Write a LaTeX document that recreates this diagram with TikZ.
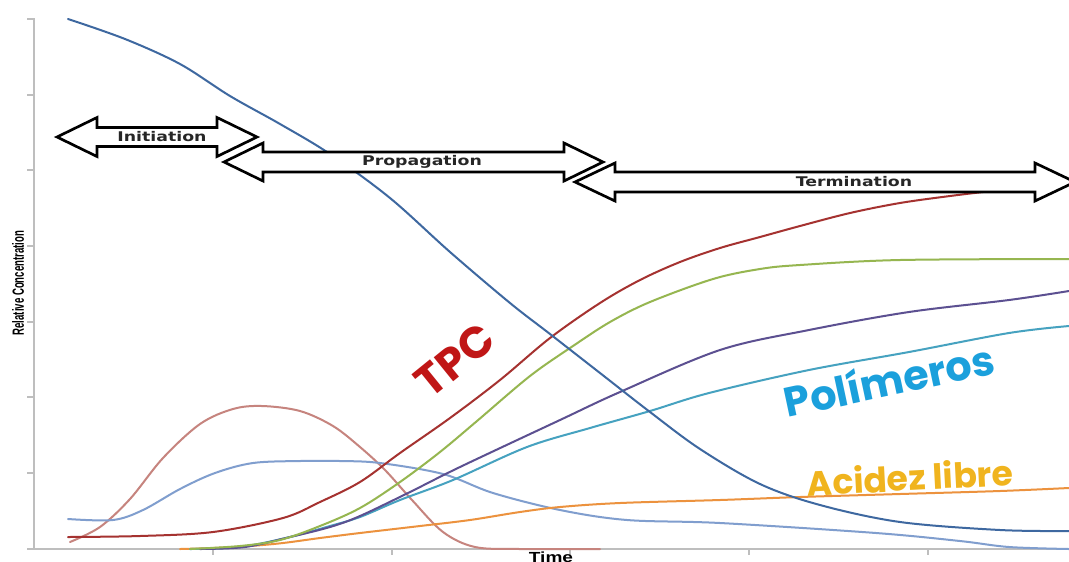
\documentclass[tikz,border=0pt]{standalone}
\usepackage{fontspec}
\setmainfont{DejaVu Sans}
\newfontfamily\bigfont{Poppins}
\newfontfamily\axfont{Liberation Sans}
\definecolor{cdb}{RGB}{62,104,160}
\definecolor{cred}{RGB}{165,50,48}
\definecolor{cgreen}{RGB}{150,182,80}
\definecolor{cpurple}{RGB}{92,80,145}
\definecolor{cteal}{RGB}{70,162,192}
\definecolor{corange}{RGB}{236,146,62}
\definecolor{crose}{RGB}{198,132,126}
\definecolor{clblue}{RGB}{128,158,206}
\definecolor{caxis}{RGB}{190,190,190}
\definecolor{ctpc}{RGB}{192,22,22}
\definecolor{cpol}{RGB}{27,160,220}
\definecolor{cacid}{RGB}{240,180,30}
\newcommand\phasearrow[6]{%
  \draw[arrowbox] (#1,#3) -- (#1+#4,#3-#6) -- (#1+#4,#3-#5) -- (#2-#4,#3-#5)
    -- (#2-#4,#3-#6) -- (#2,#3) -- (#2-#4,#3+#6) -- (#2-#4,#3+#5)
    -- (#1+#4,#3+#5) -- (#1+#4,#3+#6) -- cycle;}
\tikzset{
  curve/.style={line width=1.5pt, line join=round, line cap=round},
  arrowbox/.style={draw=black, fill=white, line width=2pt, line join=miter},
  phase/.style={font=\fontsize{10}{12}\selectfont\bfseries, text=black!85, xscale=1.3, inner sep=0pt},
  biglab/.style={font=\bigfont\bfseries, inner sep=0pt},
  axline/.style={draw=caxis, line width=1.5pt}
}
\begin{document}
\begin{tikzpicture}[x=0.75pt,y=-0.75pt]
\useasboundingbox (0,0) rectangle (1069,561);
\clip (0,0) rectangle (1069,561);
\fill[white] (0,0) rectangle (1069,561);
% axes
\coordinate (yt) at (34,18);
\coordinate (org) at (34,549);
\coordinate (xr) at (1069,549);
\draw[axline] (yt) -- (org) -- (xr);
\foreach \yy in {19,94.5,170,246,322,397,473,549} {\draw[axline] (27,\yy) -- (34,\yy);}
\foreach \xx in {213,392,570,749,928} {\draw[axline] (\xx,549) -- (\xx,555);}
% curves
\draw[curve, crose] plot[smooth, tension=0.55] coordinates {(70,542) (100,527) (130,499) (163,458) (200,424) (233,409) (262,406) (300,411) (333,426) (360,447) (385,470) (412,500) (443,532) (475,547) (520,549) (600,549)};
\draw[curve, clblue] plot[smooth, tension=0.55] coordinates {(68,519) (113,520) (143,510) (180,489) (215,473) (253,463) (300,461) (340,461) (380,463) (443,474) (493,493) (560,510) (627,520) (720,523) (876,533) (960,541) (1009,547) (1069,549)};
\draw[curve, corange] plot[smooth, tension=0.55] coordinates {(180,549) (213,548) (250,546) (283,543) (320,538) (360,533) (420,526) (470,520) (520,512) (560,507) (620,503) (720,500) (800,497) (900,494) (1000,491) (1069,488)};
\draw[curve, cteal] plot[smooth, tension=0.55] coordinates {(190,549) (240,547) (290,537) (330,526) (360,517) (400,500) (453,480) (527,447) (590,428) (650,411) (709,393) (809,370) (909,352) (1009,333) (1069,326)};
\draw[curve, cpurple] plot[smooth, tension=0.55] coordinates {(200,549) (245,547) (290,537) (330,527) (360,516) (410,492) (460,467) (560,420) (620,392) (720,350) (809,330) (909,312) (1009,300) (1069,291)};
\draw[curve, cgreen] plot[smooth, tension=0.55] coordinates {(190,549) (240,546) (280,540) (320,526) (360,508) (400,482) (440,452) (477,421) (530,376) (573,346) (610,322) (650,302) (713,279) (760,269) (800,265) (900,260) (1069,259)};
\draw[curve, cred] plot[smooth, tension=0.55] coordinates {(68,537) (140,536) (213,532) (283,518) (320,502) (360,482) (400,453) (450,418) (500,380) (550,338) (600,303) (640,280) (680,262) (720,248) (760,237) (800,226) (850,213) (900,203) (950,196) (1000,190) (1069,182)};
\draw[curve, cdb] plot[smooth, tension=0.55] coordinates {(68,19) (125,39) (180,64) (230,96) (280,124) (330,154) (390,198) (450,252) (510,303) (550,334) (600,373) (650,412) (700,449) (760,484) (820,505) (900,522) (1000,530) (1069,531)};
% phase arrows
\phasearrow{57}{257}{137}{40}{9.5}{19.5}
\phasearrow{224}{603}{162}{39}{10}{19}
\phasearrow{575}{1075}{182}{40}{10}{19}
\node[phase] (tini) at (162,137) {Initiation};
\node[phase] (tpro) at (422,162) {Propagation};
\node[phase] (tter) at (854,182) {Termination};
% axis labels
\node[font=\axfont\bfseries\fontsize{9}{10}\selectfont, rotate=90, xscale=0.8, yscale=1.35, inner sep=0pt] (ylab) at (18,283) {Relative Concentration};
\node[font=\axfont\bfseries\fontsize{11}{12}\selectfont, xscale=1.3, anchor=north, inner sep=0pt] (xlab) at (551,552) {Time};
% big labels
\node[biglab, text=ctpc, font=\bigfont\bfseries\fontsize{33}{36}\selectfont, rotate=39] (ltpc) at (455,360) {TPC};
\node[biglab, text=cpol, font=\bigfont\bfseries\fontsize{31}{34}\selectfont, rotate=12] (lpol) at (889,379) {Polímeros};
\node[biglab, text=cacid, font=\bigfont\bfseries\fontsize{26}{30}\selectfont, rotate=3] (lacid) at (910,477) {Acidez libre};
\end{tikzpicture}
\end{document}
